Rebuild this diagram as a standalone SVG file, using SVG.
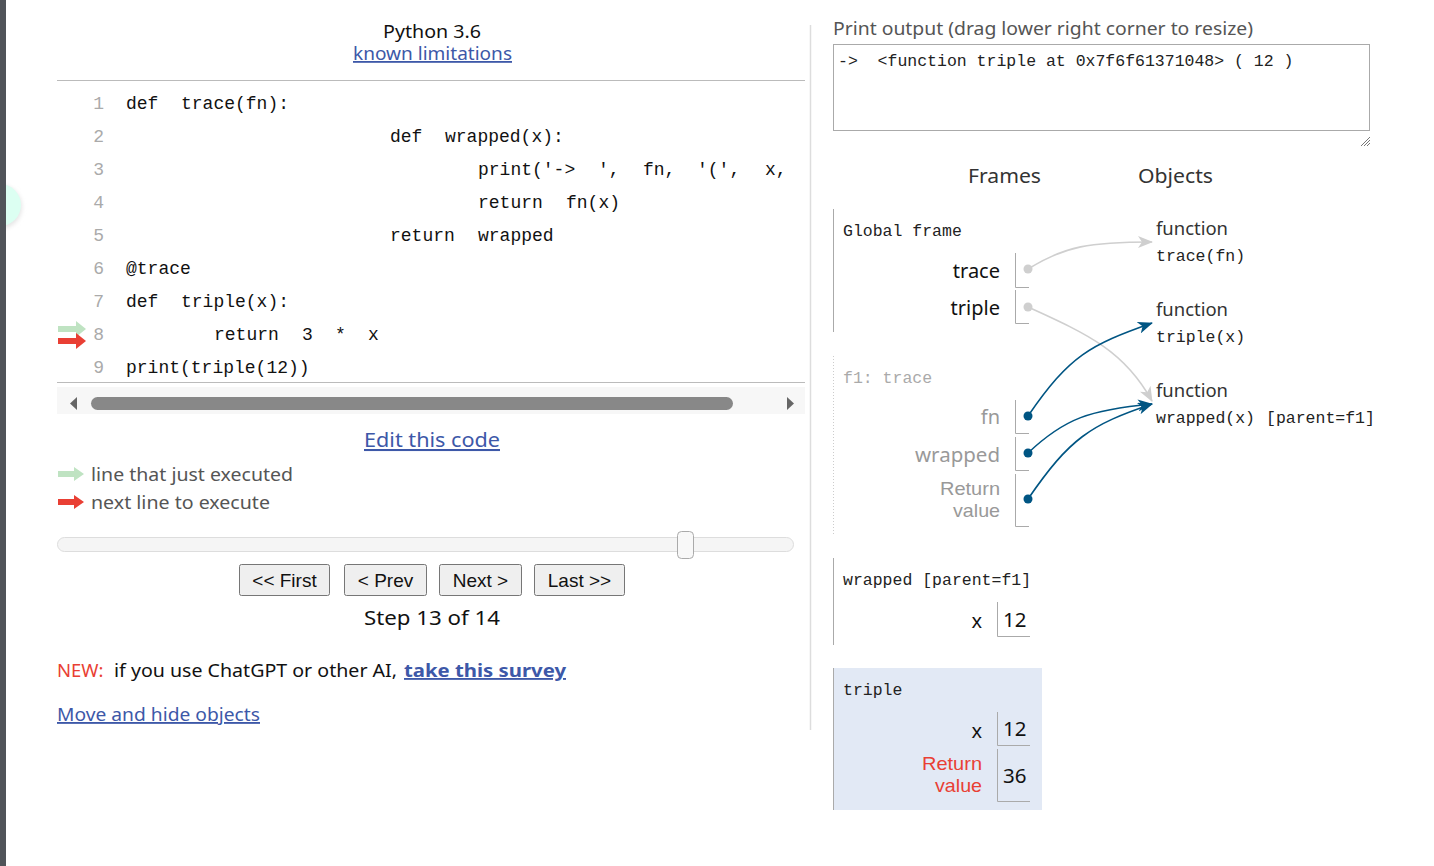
<svg xmlns="http://www.w3.org/2000/svg" width="1434" height="866" viewBox="0 0 1434 866">
<style>
.sans{font-family:"Noto Sans","Open Sans","Liberation Sans",sans-serif}
.arial{font-family:"Liberation Sans",Arial,sans-serif}
.code{font-family:"Liberation Mono","DejaVu Sans Mono",monospace;font-size:18px;fill:#111}
.ln{font-family:"Liberation Mono","DejaVu Sans Mono",monospace;font-size:18px;fill:#aaa;text-anchor:end}
.fcode{font-family:"Liberation Mono","DejaVu Sans Mono",monospace;font-size:16.5px;fill:#222}
.link{fill:#3d58a8;text-decoration:underline}
.btn{fill:#efefef;stroke:#767676;stroke-width:1}
.btxt{font-family:"Liberation Sans",Arial,sans-serif;font-size:19px;fill:#111;text-anchor:middle}
.var{font-family:"Noto Sans","Open Sans",sans-serif;font-size:20px;text-anchor:end}
.rv{font-family:"Liberation Sans",Arial,sans-serif;font-size:18.5px;text-anchor:end}
.vbox{fill:none;stroke:#aaa;stroke-width:1}
.fnlbl{font-family:"Noto Sans","Open Sans",sans-serif;font-size:18px;fill:#333}
.gray{fill:none;stroke:#cfcfcf;stroke-width:1.6}
.blue{fill:none;stroke:#005583;stroke-width:1.6}
</style>
<defs>
<marker id="ag" markerWidth="16" markerHeight="12" refX="14" refY="6" orient="auto" markerUnits="userSpaceOnUse">
<path d="M0,0 L15,6 L0,12 L4,6 z" fill="#cfcfcf"/>
</marker>
<marker id="ab" markerWidth="16" markerHeight="12" refX="14" refY="6" orient="auto" markerUnits="userSpaceOnUse">
<path d="M0,0 L15,6 L0,12 L4,6 z" fill="#005583"/>
</marker>
<filter id="sh" x="-50%" y="-50%" width="200%" height="200%"><feGaussianBlur stdDeviation="2"/></filter>
</defs>
<rect x="0" y="0" width="1434" height="866" fill="#ffffff"/>

<!-- left edge -->
<g id="left-edge">
<circle cx="0" cy="207" r="22" fill="#e6e6e6" filter="url(#sh)"/>
<circle cx="0" cy="205" r="21" fill="#dcfff2"/>
<rect x="0" y="0" width="6" height="866" fill="#505459"/>
</g>

<!-- header -->
<g id="header">
<text x="383" y="38" class="sans" font-size="18" fill="#111" textLength="98" lengthAdjust="spacingAndGlyphs">Python 3.6</text>
<text x="353" y="60" class="sans link" font-size="18" textLength="159" lengthAdjust="spacingAndGlyphs">known limitations</text>
<line x1="57" y1="80.5" x2="805" y2="80.5" stroke="#bbb" stroke-width="1"/>
</g>

<!-- code -->
<g id="code">
<text x="104" y="109" class="ln">1</text>
<text x="104" y="142" class="ln">2</text>
<text x="104" y="175" class="ln">3</text>
<text x="104" y="208" class="ln">4</text>
<text x="104" y="241" class="ln">5</text>
<text x="104" y="274" class="ln">6</text>
<text x="104" y="307" class="ln">7</text>
<text x="104" y="340" class="ln">8</text>
<text x="104" y="373" class="ln">9</text>
<text x="126" y="109" class="code">def</text><text x="181" y="109" class="code">trace(fn):</text>
<text x="390" y="142" class="code">def</text><text x="445" y="142" class="code">wrapped(x):</text>
<text x="478" y="175" class="code">print('-&gt;</text><text x="598" y="175" class="code">',</text><text x="643" y="175" class="code">fn,</text><text x="697" y="175" class="code">'(',</text><text x="765" y="175" class="code">x,</text>
<text x="478" y="208" class="code">return</text><text x="566" y="208" class="code">fn(x)</text>
<text x="390" y="241" class="code">return</text><text x="478" y="241" class="code">wrapped</text>
<text x="126" y="274" class="code">@trace</text>
<text x="126" y="307" class="code">def</text><text x="181" y="307" class="code">triple(x):</text>
<text x="214" y="340" class="code">return</text><text x="302" y="340" class="code">3</text><text x="335" y="340" class="code">*</text><text x="368" y="340" class="code">x</text>
<text x="126" y="373" class="code">print(triple(12))</text>
<path d="M58,326 L76,326 L76,321 L86,329 L76,337 L76,332 L58,332 z" fill="#bfe3c2"/>
<path d="M58,338 L76,338 L76,333 L86,341 L76,349 L76,344 L58,344 z" fill="#e93f34"/>
<line x1="57" y1="382.5" x2="805" y2="382.5" stroke="#bbb" stroke-width="1"/>
<rect x="57" y="387" width="748" height="27" fill="#f7f7f7"/>
<rect x="91" y="397" width="642" height="13" rx="6.5" fill="#888"/>
<path d="M77,397 L77,410 L70,403.5 z" fill="#666"/>
<path d="M787,397 L787,410 L794,403.5 z" fill="#666"/>
</g>

<line x1="810.5" y1="25" x2="810.5" y2="730" stroke="#ddd" stroke-width="1.5"/>

<!-- legend -->
<g id="legend">
<text x="364" y="447" class="sans link" font-size="20.5" textLength="136" lengthAdjust="spacingAndGlyphs">Edit this code</text>
<path d="M58,471 L74,471 L74,467 L84,474 L74,481 L74,477 L58,477 z" fill="#bfe3c2"/>
<text x="91" y="481" class="sans" font-size="18.5" fill="#555" textLength="202" lengthAdjust="spacingAndGlyphs">line that just executed</text>
<path d="M58,499 L74,499 L74,495 L84,502 L74,509 L74,505 L58,505 z" fill="#e93f34"/>
<text x="91" y="509" class="sans" font-size="18.5" fill="#555" textLength="179" lengthAdjust="spacingAndGlyphs">next line to execute</text>
</g>

<!-- controls -->
<g id="controls">
<rect x="57.5" y="537.5" width="736" height="14" rx="7" fill="#f5f5f5" stroke="#ddd"/>
<rect x="677.5" y="531.5" width="16" height="27" rx="4" fill="#f8f8f8" stroke="#aaa"/>
<rect x="239.5" y="564.5" width="90" height="31" rx="2" class="btn"/>
<text x="284.5" y="587" class="btxt">&lt;&lt; First</text>
<rect x="344.5" y="564.5" width="82" height="31" rx="2" class="btn"/>
<text x="385.5" y="587" class="btxt">&lt; Prev</text>
<rect x="439.5" y="564.5" width="82" height="31" rx="2" class="btn"/>
<text x="480.5" y="587" class="btxt">Next &gt;</text>
<rect x="534.5" y="564.5" width="90" height="31" rx="2" class="btn"/>
<text x="579.5" y="587" class="btxt">Last &gt;&gt;</text>
<text x="364" y="625" class="sans" font-size="20.5" fill="#111" textLength="136" lengthAdjust="spacingAndGlyphs">Step 13 of 14</text>
</g>

<g id="notes">
<text y="677" class="sans" font-size="18.5"><tspan x="57" fill="#e93f34">NEW:</tspan><tspan x="114" fill="#111" textLength="283" lengthAdjust="spacingAndGlyphs">if you use ChatGPT or other AI,</tspan><tspan x="404" fill="#3d58a8" font-weight="bold" text-decoration="underline" textLength="162" lengthAdjust="spacingAndGlyphs">take this survey</tspan></text>
<text x="57" y="721" class="sans link" font-size="18.5" textLength="203" lengthAdjust="spacingAndGlyphs">Move and hide objects</text>
</g>

<!-- print output -->
<g id="print-output">
<text x="833" y="35" class="sans" font-size="18.5" fill="#555" textLength="420" lengthAdjust="spacingAndGlyphs">Print output (drag lower right corner to resize)</text>
<rect x="833.5" y="44.5" width="536" height="86" fill="#fff" stroke="#aaa"/>
<text x="838" y="66" class="fcode" font-size="16.6" xml:space="preserve">-&gt;  &lt;function triple at 0x7f6f61371048&gt; ( 12 )</text>
<path d="M1361,146 L1370,137 M1364,146 L1370,140 M1367,146 L1370,143" stroke="#777" stroke-width="1"/>
</g>

<g id="headings">
<text x="968" y="183" class="sans" font-size="20" fill="#333" textLength="73" lengthAdjust="spacingAndGlyphs">Frames</text>
<text x="1138" y="183" class="sans" font-size="20" fill="#333" textLength="75" lengthAdjust="spacingAndGlyphs">Objects</text>
</g>

<!-- global frame -->
<g id="global-frame">
<line x1="833.5" y1="209" x2="833.5" y2="332" stroke="#aaa" stroke-width="1"/>
<text x="843" y="236" class="fcode">Global frame</text>
<text x="1000" y="278" class="var" fill="#111">trace</text>
<path d="M1015.5,253 L1015.5,287.5 L1029,287.5" class="vbox"/>
<text x="1000" y="315" class="var" fill="#111">triple</text>
<path d="M1015.5,290 L1015.5,323.5 L1029,323.5" class="vbox"/>
<circle cx="1028" cy="269" r="4.5" fill="#cfcfcf"/>
<circle cx="1028" cy="307" r="4.5" fill="#cfcfcf"/>
</g>

<!-- f1 trace frame -->
<g id="f1-frame">
<line x1="833.5" y1="356" x2="833.5" y2="536" stroke="#ccc" stroke-width="1" stroke-dasharray="1,2"/>
<text x="843" y="383" class="fcode" style="fill:#aaa">f1: trace</text>
<text x="1000" y="424" class="var" fill="#999">fn</text>
<path d="M1015.5,400 L1015.5,433.5 L1029,433.5" class="vbox"/>
<text x="1000" y="462" class="var" fill="#999" textLength="85" lengthAdjust="spacingAndGlyphs">wrapped</text>
<path d="M1015.5,437 L1015.5,470.5 L1029,470.5" class="vbox"/>
<text x="1000" y="495" class="rv" fill="#999" textLength="60" lengthAdjust="spacingAndGlyphs">Return</text>
<text x="1000" y="517" class="rv" fill="#999" textLength="47" lengthAdjust="spacingAndGlyphs">value</text>
<path d="M1015.5,474 L1015.5,526.5 L1029,526.5" class="vbox"/>
<circle cx="1028" cy="416" r="4.5" fill="#005583"/>
<circle cx="1028" cy="453" r="4.5" fill="#005583"/>
<circle cx="1028" cy="499" r="4.5" fill="#005583"/>
</g>

<!-- wrapped frame -->
<g id="wrapped-frame">
<line x1="833.5" y1="558" x2="833.5" y2="645" stroke="#aaa" stroke-width="1"/>
<text x="843" y="585" class="fcode">wrapped [parent=f1]</text>
<text x="982" y="628" class="var" fill="#111">x</text>
<path d="M997.5,602 L997.5,636.5 L1030,636.5" class="vbox"/>
<text x="1003" y="627" class="sans" font-size="20.5" fill="#111">12</text>
</g>

<!-- triple frame -->
<g id="triple-frame">
<rect x="833" y="668" width="209" height="142" fill="#e2e9f5"/>
<line x1="833.5" y1="668" x2="833.5" y2="810" stroke="#aaa" stroke-width="1"/>
<text x="843" y="695" class="fcode">triple</text>
<text x="982" y="738" class="var" fill="#111">x</text>
<path d="M997.5,712 L997.5,745.5 L1030,745.5" class="vbox"/>
<text x="1003" y="736" class="sans" font-size="20.5" fill="#111">12</text>
<text x="982" y="770" class="rv" fill="#e93f34" textLength="60" lengthAdjust="spacingAndGlyphs">Return</text>
<text x="982" y="792" class="rv" fill="#e93f34" textLength="47" lengthAdjust="spacingAndGlyphs">value</text>
<path d="M997.5,749 L997.5,801.5 L1030,801.5" class="vbox"/>
<text x="1003" y="783" class="sans" font-size="20.5" fill="#111">36</text>
</g>

<!-- objects -->
<g id="obj-trace">
<text x="1156" y="235" class="fnlbl" textLength="72" lengthAdjust="spacingAndGlyphs">function</text>
<text x="1156" y="261" class="fcode" font-size="16">trace(fn)</text>
</g>
<g id="obj-triple">
<text x="1156" y="316" class="fnlbl" textLength="72" lengthAdjust="spacingAndGlyphs">function</text>
<text x="1156" y="342" class="fcode" font-size="16">triple(x)</text>
</g>
<g id="obj-wrapped">
<text x="1156" y="397" class="fnlbl" textLength="72" lengthAdjust="spacingAndGlyphs">function</text>
<text x="1156" y="423" class="fcode" font-size="16">wrapped(x)</text>
<text x="1266" y="423" class="fcode" font-size="16">[parent=f1]</text>
</g>

<!-- connectors -->
<g id="connectors">
<path d="M1028,269 C1065,246 1090,242 1152,242" class="gray" marker-end="url(#ag)"/>
<path d="M1028,307 C1090,335 1125,352 1152,401" class="gray" marker-end="url(#ag)"/>
<path d="M1028,416 C1070,355 1090,345 1152,323" class="blue" marker-end="url(#ab)"/>
<path d="M1028,453 C1065,418 1090,410 1152,404" class="blue" marker-end="url(#ab)"/>
<path d="M1028,499 C1070,438 1090,425 1152,404" class="blue" marker-end="url(#ab)"/>
</g>
</svg>
